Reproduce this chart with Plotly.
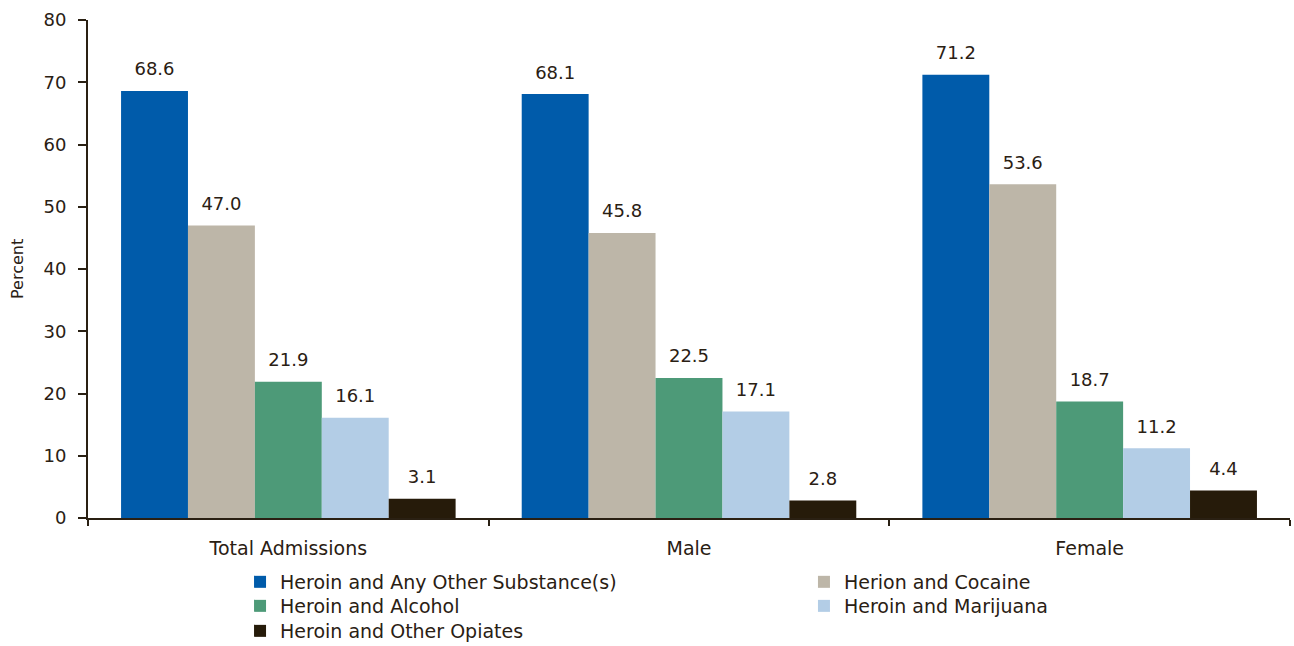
import plotly.graph_objects as go

categories = ["Total Admissions", "Male", "Female"]
series_names = [
    "Heroin and Any Other Substance(s)",
    "Herion and Cocaine",
    "Heroin and Alcohol",
    "Heroin and Marijuana",
    "Heroin and Other Opiates",
]
any_other = [68.6, 68.1, 71.2]
cocaine = [47.0, 45.8, 53.6]
alcohol = [21.9, 22.5, 18.7]
marijuana = [16.1, 17.1, 11.2]
opiates = [3.1, 2.8, 4.4]
values = [any_other, cocaine, alcohol, marijuana, opiates]
colors = ["#005BAA", "#BDB6A8", "#4D9A78", "#B3CDE6", "#261B0A"]
legend_ids = ["legend", "legend2", "legend3", "legend4", "legend5"]
y_title = "Percent"

TXT = "#2A2013"
FONT = "DejaVu Sans, sans-serif"

fig = go.Figure()
for i, (name, vals, col, lg) in enumerate(zip(series_names, values, colors, legend_ids)):
    fig.add_trace(go.Bar(
        x=categories, y=vals, name=name, marker_color=col, marker_line_width=0,
        offsetgroup=str(i), alignmentgroup="a", legend=lg,
    ))
for i, vals in enumerate(values):
    fig.add_trace(go.Scatter(
        x=categories, y=vals, mode="markers+text", text=[f"{v:.1f}" for v in vals],
        marker=dict(size=16, color="rgba(0,0,0,0)"),
        textposition="top center", textfont=dict(size=18, color=TXT, family=FONT),
        offsetgroup=str(i), alignmentgroup="a", showlegend=False, cliponaxis=False,
        hoverinfo="skip",
    ))

leg_common = dict(xref="container", yref="container", xanchor="left", yanchor="middle",
                  orientation="v", font=dict(size=19, color=TXT), itemwidth=30,
                  bgcolor="rgba(0,0,0,0)")
col_x = [0.1855, 0.6213]
row_y = [0.0991, 0.0619, 0.0232]

fig.update_layout(
    width=1294, height=646,
    margin=dict(l=88, r=4, t=20, b=128, autoexpand=False),
    paper_bgcolor="white", plot_bgcolor="white",
    barmode="group", bargap=0.165, bargroupgap=0,
    scattermode="group", scattergap=0.165,
    font=dict(family=FONT, color=TXT, size=18),
    xaxis=dict(
        showline=True, linecolor=TXT, linewidth=2,
        ticks="outside", tickson="boundaries", ticklen=6, tickwidth=2, tickcolor=TXT,
        tickfont=dict(size=19, color=TXT), showgrid=False, ticklabelstandoff=12,
        tickangle=0,
    ),
    yaxis=dict(
        range=[0, 80], dtick=10, showline=True, linecolor=TXT, linewidth=2,
        ticks="outside", ticklen=8, tickwidth=2, tickcolor=TXT,
        tickfont=dict(size=18, color=TXT), showgrid=False, zeroline=False,
        ticklabelstandoff=8,
    ),
    annotations=[dict(
        text=y_title, xref="paper", yref="paper", x=0, y=0.5, xshift=-71,
        xanchor="center", yanchor="middle", textangle=-90, showarrow=False,
        font=dict(size=16, color=TXT, family=FONT),
    )],
    legend=dict(leg_common, x=col_x[0], y=row_y[0]),
    legend2=dict(leg_common, x=col_x[1], y=row_y[0]),
    legend3=dict(leg_common, x=col_x[0], y=row_y[1]),
    legend4=dict(leg_common, x=col_x[1], y=row_y[1]),
    legend5=dict(leg_common, x=col_x[0], y=row_y[2]),
)

fig.write_html("out.html")
